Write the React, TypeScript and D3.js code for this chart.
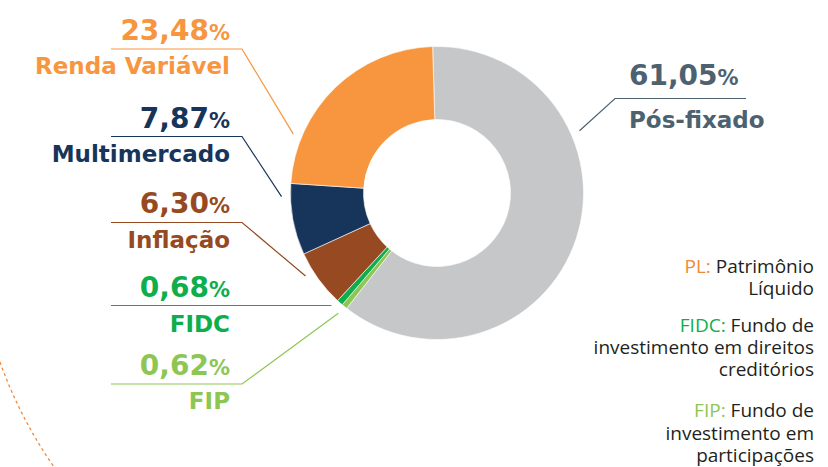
import React from "react";
import * as d3 from "d3";

// composição da carteira (% do PL), sentido horário a partir do topo
const categories = ["Pós-fixado", "FIP", "FIDC", "Inflação", "Multimercado", "Renda Variável"];
const values = [61.05, 0.62, 0.68, 6.3, 7.87, 23.48];
const valueLabels = ["61,05", "0,62", "0,68", "6,30", "7,87", "23,48"];
const colors = ["#C6C7C9", "#8DC653", "#0DAE4B", "#974A21", "#17345A", "#F7963F"];
const textColors = ["#4D6271", "#8DC653", "#0DAE4B", "#974A21", "#17345A", "#F7963F"];

const notes = [
  { key: "PL:", keyColor: "#F0883A", lines: ["Patrimônio", "Líquido"] },
  { key: "FIDC:", keyColor: "#0DAE4B", lines: ["Fundo de", "investimento em direitos", "creditórios"] },
  { key: "FIP:", keyColor: "#8DC653", lines: ["Fundo de", "investimento em", "participações"] },
];

const W = 828;
const H = 467;
const cx = 437;
const cy = 193;
const outerR = 146.5;
const innerR = 73.5;
const start = -0.03;

// posição dos rótulos (layout)
const labelLayout: Record<string, { pctY: number; lineY: number; nameY: number; t: number; side: "left" | "right"; straight?: boolean }> = {
  "Renda Variável": { pctY: 40, lineY: 49, nameY: 74, t: 0.22, side: "left" },
  Multimercado: { pctY: 128, lineY: 136.5, nameY: 162, t: 0.82, side: "left" },
  Inflação: { pctY: 213, lineY: 222.5, nameY: 248, t: 0.66, side: "left" },
  FIDC: { pctY: 297, lineY: 305.5, nameY: 332, t: 1.0, side: "left", straight: true },
  FIP: { pctY: 375, lineY: 384, nameY: 409, t: 0.6, side: "left" },
  "Pós-fixado": { pctY: 85, lineY: 98.5, nameY: 128, t: 0.31, side: "right" },
};

const LABEL_FONT = "'DejaVu Sans', sans-serif";
const NOTE_FONT = "'Open Sans', 'Noto Sans', sans-serif";

export default function App() {
  const pie = d3
    .pie<number>()
    .sort(null)
    .value((d) => d)
    .startAngle(start)
    .endAngle(start + 2 * Math.PI);
  const arcs = pie(values);
  const arc = d3.arc<d3.PieArcDatum<number>>().innerRadius(innerR).outerRadius(outerR);

  const leaderR = outerR + 9;

  return (
    <svg width={W} height={H} style={{ position: "absolute", left: 0, top: 0, background: "#fff" }}>
      {/* arco tracejado decorativo */}
      <path d="M0,362 Q20,418 54,467" fill="none" stroke="#F28A3A" strokeWidth={1.3} strokeDasharray="3,3" />

      <g transform={`translate(${cx},${cy})`}>
        {arcs.map((a, i) => (
          <path key={categories[i]} d={arc(a) || ""} fill={colors[i]} stroke="#fff" strokeWidth={0.6} />
        ))}
      </g>

      <g fontFamily={LABEL_FONT} fontWeight={700}>
        {arcs.map((a, i) => {
          const name = categories[i];
          const L = labelLayout[name];
          const ang = a.startAngle + (a.endAngle - a.startAngle) * L.t;
          const ex = cx + Math.sin(ang) * leaderR;
          const ey = cy - Math.cos(ang) * leaderR;
          const col = textColors[i];
          if (L.side === "left") {
            const xr = 230;
            const elbow = L.straight ? ex : 242;
            const endY = L.straight ? L.lineY : ey;
            return (
              <g key={name}>
                <path d={`M111,${L.lineY}H${elbow}L${ex},${endY}`} fill="none" stroke={col} strokeWidth={1.2} />
                <text x={xr} y={L.pctY} textAnchor="end" fill={col} fontSize={28}>
                  {valueLabels[i]}
                  <tspan fontSize={21}>%</tspan>
                </text>
                <text x={xr} y={L.nameY} textAnchor="end" fill={col} fontSize={23}>
                  {name}
                </text>
              </g>
            );
          }
          return (
            <g key={name}>
              <path d={`M746,${L.lineY}H615L${ex},${ey}`} fill="none" stroke={col} strokeWidth={1.2} />
              <text x={629} y={L.pctY} fill={col} fontSize={28}>
                {valueLabels[i]}
                <tspan fontSize={21}>%</tspan>
              </text>
              <text x={629} y={L.nameY} fill={col} fontSize={23}>
                {name}
              </text>
            </g>
          );
        })}
      </g>

      {/* notas */}
      <g fontFamily={NOTE_FONT} fontSize={19} fill="#231F20" textAnchor="end">
        {(() => {
          const baselines = [[273, 295], [332, 353.5, 376], [417, 439.5, 461.5]];
          return notes.map((n, i) =>
            n.lines.map((ln, j) => (
              <text key={n.key + j} x={814} y={baselines[i][j]}>
                {j === 0 ? (
                  <>
                    <tspan fill={n.keyColor}>{n.key}</tspan> {ln}
                  </>
                ) : (
                  ln
                )}
              </text>
            ))
          );
        })()}
      </g>
    </svg>
  );
}
